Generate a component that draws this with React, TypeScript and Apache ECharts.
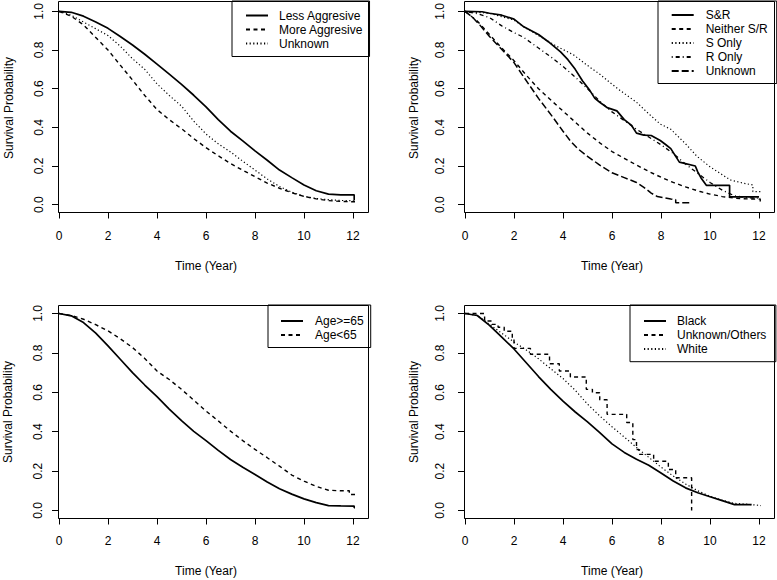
import React, { useEffect, useRef } from "react";
import * as echarts from "echarts";

// ---------- data ----------
const xTicks = [0, 2, 4, 6, 8, 10, 12];
const yTicks = [0, 0.2, 0.4, 0.6, 0.8, 1.0];
const xTitle = "Time (Year)";
const yTitle = "Survival Probability";

// Panel 1: aggressiveness
const lessAggressive = [[0,1],[0.5,0.995],[1,0.975],[1.5,0.945],[2,0.912],[2.5,0.87],[3,0.826],[3.5,0.778],[4,0.727],[4.5,0.675],[5,0.622],[5.5,0.566],[6,0.506],[6.5,0.44],[7,0.38],[7.5,0.33],[8,0.278],[8.5,0.23],[9,0.179],[9.5,0.14],[10,0.102],[10.5,0.072],[11,0.055],[11.5,0.051],[12.05,0.051],[12.05,0.026],[12.15,0.026]];
const moreAggressive = [[0,1],[0.5,0.975],[1,0.93],[1.5,0.865],[2,0.8],[2.5,0.722],[3,0.645],[3.5,0.565],[4,0.492],[4.5,0.44],[5,0.393],[5.5,0.342],[6,0.295],[6.5,0.253],[7,0.213],[7.5,0.178],[8,0.145],[8.5,0.112],[9,0.085],[9.5,0.062],[10,0.043],[10.5,0.03],[11,0.021],[11.5,0.017],[12.1,0.015]];
const unknownAggr = [[0,1],[0.5,0.98],[1,0.945],[1.5,0.91],[2,0.875],[2.5,0.82],[3,0.755],[3.5,0.7],[4,0.625],[4.5,0.565],[5,0.51],[5.5,0.432],[6,0.366],[6.5,0.315],[7,0.273],[7.5,0.225],[8,0.179],[8.5,0.133],[9,0.094],[9.5,0.065],[10,0.043],[10.5,0.032],[11,0.026],[11.5,0.022],[12.1,0.02]];

// Panel 2: surgery / radiation
const sAndR = [[0,1],[0.7,0.998],[1,0.99],[1.5,0.98],[2,0.96],[2.4,0.92],[3,0.88],[3.4,0.843],[3.9,0.79],[4.2,0.75],[4.5,0.7],[4.8,0.64],[5.1,0.59],[5.3,0.55],[5.5,0.53],[5.8,0.502],[6.2,0.485],[6.5,0.44],[6.8,0.41],[7.0,0.37],[7.3,0.36],[7.6,0.358],[7.97,0.332],[8.2,0.31],[8.4,0.29],[8.6,0.25],[8.75,0.22],[9.4,0.2],[9.5,0.17],[9.65,0.135],[9.85,0.1],[10.8,0.1],[10.8,0.04],[12.0,0.04]];
const neitherSR = [[0,1],[0.5,0.95],[1,0.88],[1.5,0.81],[2,0.745],[2.5,0.67],[3,0.6],[3.6,0.53],[4.3,0.45],[5,0.37],[5.5,0.32],[6,0.275],[6.5,0.24],[7,0.205],[7.5,0.172],[8,0.142],[8.5,0.115],[9,0.092],[9.6,0.068],[10,0.055],[10.5,0.042],[11,0.034],[11.5,0.03],[12.05,0.029],[12.05,0.012],[12.1,0.012]];
const sOnly = [[0,1],[1,0.99],[2,0.955],[2.4,0.92],[3,0.875],[3.76,0.818],[4.43,0.775],[5,0.72],[5.52,0.673],[5.93,0.63],[6.34,0.59],[7,0.53],[7.5,0.47],[7.97,0.417],[8.4,0.39],[9,0.315],[9.47,0.25],[10,0.196],[10.5,0.155],[10.83,0.128],[11.37,0.111],[11.75,0.102],[11.75,0.068],[12.2,0.068]];
const rOnly = [[0,1],[0.5,0.988],[1,0.968],[1.5,0.925],[2,0.89],[2.4,0.865],[3,0.81],[3.5,0.765],[4,0.715],[4.5,0.66],[5,0.6],[5.5,0.535],[6,0.48],[6.5,0.435],[7,0.39],[7.5,0.35],[8,0.31],[8.5,0.265],[9,0.21],[9.6,0.153],[10,0.115],[10.5,0.075],[11,0.046],[11.5,0.036],[12.1,0.033]];
const unknownSR = [[0,1],[0.3,0.97],[0.6,0.93],[1,0.87],[1.3,0.83],[1.6,0.79],[2,0.735],[2.4,0.66],[3,0.55],[3.6,0.45],[4,0.38],[4.3,0.33],[4.6,0.29],[5,0.25],[5.5,0.205],[6,0.165],[6.5,0.14],[7,0.115],[7.3,0.09],[7.6,0.06],[7.85,0.042],[8.4,0.03],[8.6,0.026],[8.6,0.01],[9.2,0.01]];

// Panel 3: age
const age65plus = [[0,1],[0.5,0.988],[1,0.954],[1.5,0.9],[2,0.836],[2.5,0.768],[3,0.7],[3.5,0.637],[4,0.578],[4.5,0.515],[5,0.456],[5.5,0.402],[6,0.355],[6.5,0.305],[7,0.259],[7.5,0.22],[8,0.183],[8.5,0.145],[9,0.11],[9.5,0.083],[10,0.059],[10.5,0.04],[11,0.025],[11.5,0.023],[12.05,0.022],[12.05,0.014],[12.15,0.014]];
const ageUnder65 = [[0,1],[0.5,0.99],[1,0.971],[1.5,0.943],[2,0.912],[2.5,0.872],[3,0.827],[3.5,0.772],[4,0.708],[4.5,0.665],[5,0.615],[5.5,0.56],[6,0.505],[6.5,0.455],[7,0.403],[7.5,0.355],[8,0.31],[8.5,0.268],[9,0.225],[9.5,0.18],[10,0.149],[10.5,0.122],[11,0.103],[11.5,0.1],[11.85,0.1],[11.85,0.081],[12.2,0.081]];

// Panel 4: race
const black = [[0,1],[0.5,0.99],[1,0.94],[1.5,0.88],[2,0.82],[2.5,0.75],[3,0.68],[3.5,0.615],[4,0.555],[4.5,0.5],[5,0.45],[5.5,0.395],[6,0.338],[6.5,0.295],[7,0.26],[7.5,0.23],[8,0.19],[8.5,0.15],[9,0.115],[9.5,0.09],[10,0.07],[10.5,0.05],[11,0.03],[11.7,0.03]];
const unknownOthers = [[0,1],[0.8,0.962],[1.1,0.945],[1.35,0.93],[1.6,0.91],[1.93,0.87],[2.0,0.823],[2.67,0.793],[3.45,0.745],[3.85,0.708],[4.3,0.678],[4.95,0.615],[5.2,0.598],[5.5,0.562],[5.8,0.488],[6.6,0.447],[6.85,0.36],[7.0,0.31],[7.1,0.285],[7.7,0.25],[8.3,0.208],[8.6,0.166],[9.25,0.0]];
const white = [[0,1],[0.5,0.99],[1,0.945],[1.5,0.9],[2,0.855],[2.5,0.815],[3,0.77],[3.5,0.72],[4,0.67],[4.5,0.61],[5,0.54],[5.5,0.48],[6,0.425],[6.5,0.373],[7,0.32],[7.5,0.27],[8,0.22],[8.5,0.175],[9,0.135],[9.5,0.1],[10,0.072],[10.5,0.052],[11,0.036],[11.5,0.032],[12.1,0.025]];

// ---------- styles / layout ----------
const FONT = "'Liberation Sans', Arial, Helvetica, sans-serif";
const DASH: Record<string, any> = {
  solid: "solid",
  dashed: [4, 3.5],
  dotted: [1.2, 2.4],
  dotdash: [1, 3, 4, 3],
  longdash: [7, 3],
};
const WIDTH: Record<string, number> = { solid: 1.7, dashed: 1.4, dotted: 1.2, dotdash: 1.3, longdash: 1.5 };

type Panel = {
  left: number; top: number; h: number;
  xOff: number; yOff: number;
  xLabelMargin: number; yLabelMargin: number;
  xNameGap: number; yNameGap: number;
  box: [number, number, number, number];
  legend: { left: number; top: number; padding: number[]; textGap: number };
};

const panels: Panel[] = [
  { left: 59, top: 9.3, h: 195.4, xOff: 7.8, yOff: 1, xLabelMargin: 17, yLabelMargin: 13, xNameGap: 47.5, yNameGap: 43,
    box: [58.5, 1.5, 310, 211], legend: { left: 232, top: 1, padding: [7.5, 6.5, 6, 13], textGap: 6 } },
  { left: 465, top: 9.3, h: 195.4, xOff: 7.8, yOff: 1, xLabelMargin: 17, yLabelMargin: 18, xNameGap: 47.5, yNameGap: 44,
    box: [464.5, 1.5, 310, 211], legend: { left: 658, top: 1, padding: [7, 9, 5.5, 12.7], textGap: 7 } },
  { left: 59, top: 313.5, h: 197, xOff: 8, yOff: 1, xLabelMargin: 16, yLabelMargin: 14, xNameGap: 46.5, yNameGap: 44,
    box: [58.5, 305.5, 310, 213], legend: { left: 268, top: 305, padding: [9, 7, 5.5, 12], textGap: 7 } },
  { left: 465, top: 313.5, h: 197, xOff: 8, yOff: 1, xLabelMargin: 16, yLabelMargin: 18, xNameGap: 46.5, yNameGap: 44,
    box: [464.5, 305.5, 310, 213], legend: { left: 630, top: 305, padding: [9, 9.5, 5.7, 13], textGap: 6 } },
];

type SeriesDef = { key: string; label: string; data: number[][]; dash: string; panel: number; step?: boolean };

const seriesDefs: SeriesDef[] = [
  { key: "p1-less", label: "Less Aggresive", data: lessAggressive, dash: "solid", panel: 0 },
  { key: "p1-more", label: "More Aggresive", data: moreAggressive, dash: "dashed", panel: 0 },
  { key: "p1-unknown", label: "Unknown", data: unknownAggr, dash: "dotted", panel: 0 },
  { key: "p2-sr", label: "S&R", data: sAndR, dash: "solid", panel: 1 },
  { key: "p2-neither", label: "Neither S/R", data: neitherSR, dash: "dashed", panel: 1 },
  { key: "p2-sonly", label: "S Only", data: sOnly, dash: "dotted", panel: 1 },
  { key: "p2-ronly", label: "R Only", data: rOnly, dash: "dotdash", panel: 1 },
  { key: "p2-unknown", label: "Unknown", data: unknownSR, dash: "longdash", panel: 1 },
  { key: "p3-old", label: "Age>=65", data: age65plus, dash: "solid", panel: 2 },
  { key: "p3-young", label: "Age<65", data: ageUnder65, dash: "dashed", panel: 2 },
  { key: "p4-black", label: "Black", data: black, dash: "solid", panel: 3 },
  { key: "p4-other", label: "Unknown/Others", data: unknownOthers, dash: "dashed", panel: 3, step: true },
  { key: "p4-white", label: "White", data: white, dash: "dotted", panel: 3 },
];

const labelByKey: Record<string, string> = {};
seriesDefs.forEach((s) => (labelByKey[s.key] = s.label));

const textBase = { color: "#000", fontSize: 12, fontFamily: FONT };

function buildOption() {
  return {
    animation: false,
    backgroundColor: "#fff",
    textStyle: { fontFamily: FONT, color: "#000" },
    grid: panels.map((p) => ({ left: p.left, top: p.top, width: 294, height: p.h, containLabel: false })),
    xAxis: panels.map((p, i) => ({
      gridIndex: i,
      type: "value",
      min: xTicks[0],
      max: xTicks[xTicks.length - 1],
      interval: 2,
      offset: p.xOff,
      axisLine: { show: true, onZero: false, lineStyle: { color: "#000", width: 1 } },
      axisTick: { show: true, length: 6, lineStyle: { color: "#000", width: 1 } },
      axisLabel: { ...textBase, margin: p.xLabelMargin, formatter: (v: number) => String(v) },
      splitLine: { show: false },
      name: xTitle,
      nameLocation: "middle",
      nameGap: p.xNameGap,
      nameTextStyle: { ...textBase },
    })),
    yAxis: panels.map((p, i) => ({
      gridIndex: i,
      type: "value",
      min: yTicks[0],
      max: yTicks[yTicks.length - 1],
      interval: 0.2,
      offset: p.yOff,
      axisLine: { show: true, onZero: false, lineStyle: { color: "#000", width: 1 } },
      axisTick: { show: true, length: 6, lineStyle: { color: "#000", width: 1 } },
      axisLabel: { ...textBase, margin: p.yLabelMargin, rotate: 90, formatter: (v: number) => v.toFixed(1) },
      splitLine: { show: false },
      name: yTitle,
      nameLocation: "middle",
      nameRotate: 90,
      nameGap: p.yNameGap,
      nameTextStyle: { ...textBase },
    })),
    legend: panels.map((p, i) => ({
      show: true,
      orient: "vertical",
      left: p.legend.left,
      top: p.legend.top,
      padding: p.legend.padding,
      itemWidth: 22,
      itemHeight: 14,
      itemGap: 0,
      borderColor: "#000",
      borderWidth: 1,
      borderRadius: 0,
      backgroundColor: "#fff",
      selectedMode: false,
      itemStyle: { color: "rgba(0,0,0,0)", borderWidth: 0, opacity: 0 },
      lineStyle: { opacity: 1 },
      data: seriesDefs.filter((s) => s.panel === i).map((s) => s.key),
      formatter: (name: string) => labelByKey[name] ?? name,
      textStyle: { ...textBase, lineHeight: 14, padding: [0, 0, 0, p.legend.textGap] },
    })),
    graphic: panels.map((p) => ({
      type: "rect",
      silent: true,
      z: 10,
      shape: { x: p.box[0], y: p.box[1], width: p.box[2], height: p.box[3] },
      style: { fill: "none", stroke: "#000", lineWidth: 1 },
    })),
    series: seriesDefs.map((s) => ({
      type: "line",
      name: s.key,
      xAxisIndex: s.panel,
      yAxisIndex: s.panel,
      data: s.data,
      step: s.step ? "end" : false,
      symbol: "none",
      showSymbol: false,
      clip: false,
      silent: true,
      smooth: false,
      color: "#000",
      itemStyle: { color: "#000" },
      lineStyle: { color: "#000", width: WIDTH[s.dash], type: DASH[s.dash] },
      emphasis: { disabled: true },
    })),
  };
}

export default function App() {
  const ref = useRef<HTMLDivElement | null>(null);
  useEffect(() => {
    if (!ref.current) return;
    const chart = echarts.init(ref.current, undefined, { renderer: "svg" });
    chart.setOption(buildOption() as any);
    return () => chart.dispose();
  }, []);
  return (
    <div
      ref={ref}
      style={{ position: "absolute", left: 0, top: 0, width: 777, height: 580, background: "#fff" }}
    />
  );
}
